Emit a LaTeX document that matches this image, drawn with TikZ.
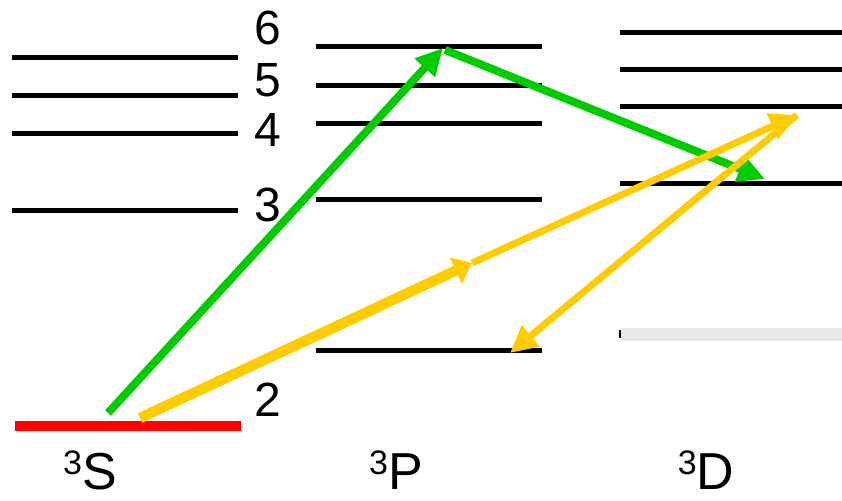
\documentclass[tikz,border=0pt]{standalone}
\usepackage{fontspec}
\setmainfont{Liberation Sans}
\usetikzlibrary{arrows.meta,positioning,calc}
\definecolor{lvlgreen}{RGB}{0,204,0}
\definecolor{lvlyellow}{RGB}{255,204,0}
\definecolor{lvlred}{RGB}{255,0,0}
\definecolor{lvlgrey}{RGB}{232,232,232}

\begin{document}
\begin{tikzpicture}[x=1pt,y=-1pt,
  level/.style={line width=5pt},
  num/.style={font=\fontsize{48}{48}\selectfont,inner sep=0pt},
  term/.style={font=\fontsize{52}{52}\selectfont,inner sep=0pt,anchor=base},
  trans/.style={line width=8pt,-{Triangle[length=27pt,width=26pt]}}]
\useasboundingbox (0,0) rectangle (842,500);
% energy levels
\foreach \y in {58,96,133,210} \draw[level] (12,\y)--(238,\y);
\draw[lvlred,line width=10pt] (15,426)--(241,426);
\foreach \y in {47,86,123,199,350} \draw[level] (316,\y)--(542,\y);
\foreach \y in {33,70,107,183} \draw[level] (620,\y)--(842,\y);
\draw[lvlgrey,line width=13pt] (621,334)--(842,334);
\draw[line width=2pt] (620,330)--(620,338);
% level numbers
\foreach \y/\n in {28/6,80/5,130/4,205/3,400/2}
  \node[num] (n\n) at (268,\y) {\n};
% term labels
\node[term] (tS) at (90,489) {\raisebox{15pt}{\fontsize{34}{34}\selectfont 3}S};
\node[term] (tP) at (396,489) {\raisebox{15pt}{\fontsize{34}{34}\selectfont 3}P};
\node[term] (tD) at (706,489) {\raisebox{15pt}{\fontsize{34}{34}\selectfont 3}D};
% transition end points
\coordinate (s2a) at (108,413);
\coordinate (s2b) at (140,418);
\coordinate (p6) at (443,48);
\coordinate (p6b) at (445,50);
\coordinate (d3) at (765,179);
\coordinate (mid) at (472,263);
\coordinate (d4) at (797,115);
\coordinate (p2) at (510,353);
% transitions
\draw[trans,lvlgreen] (s2a)--(p6);
\draw[trans,lvlgreen] (p6b)--(d3);
\draw[trans,lvlyellow,line width=10.5pt,-{Triangle[length=18pt,width=28pt]}] (s2b)--(mid);
\draw[trans,lvlyellow,line width=7pt] (mid)--(d4);
\draw[trans,lvlyellow,line width=7pt] (d4)--(p2);
\end{tikzpicture}
\end{document}
